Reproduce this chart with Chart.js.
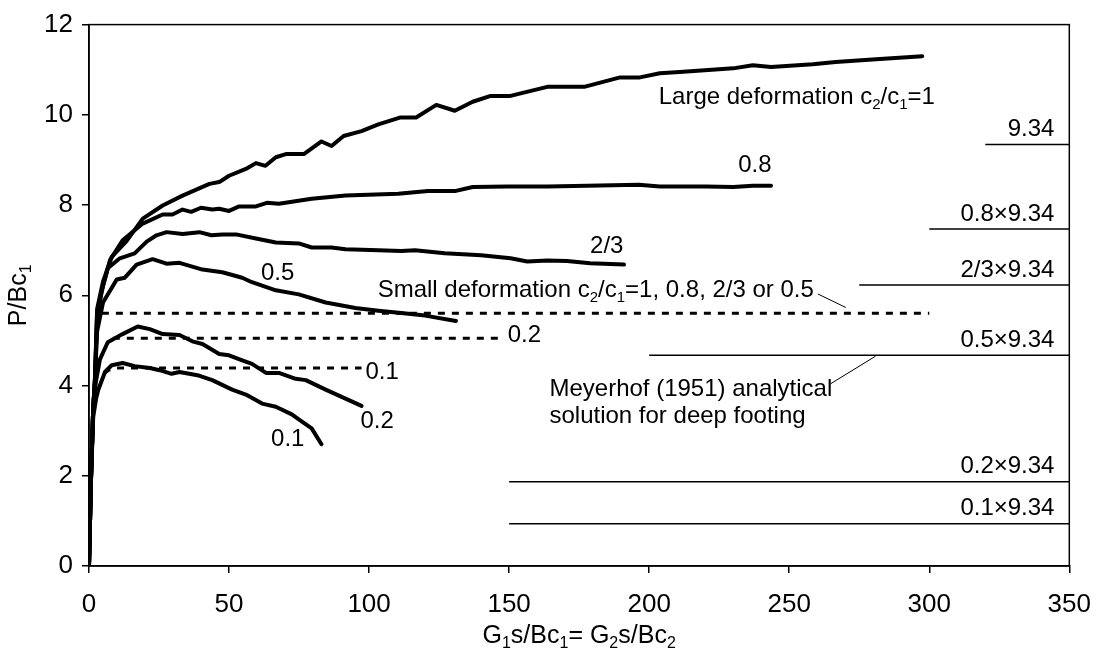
<!DOCTYPE html>
<html>
<head>
<meta charset="utf-8">
<script src="https://cdn.jsdelivr.net/npm/chart.js@4/dist/chart.umd.min.js"></script>
<style>
  html, body { margin: 0; padding: 0; background: #fff; }
</style>
</head>
<body>
<canvas id="chart" width="1107" height="659"></canvas>
<script>
// large deformation curves, one pair of arrays per c2/c1 ratio
const c100X = [0, 0.7, 1.5, 2.1, 2.9, 5, 8.1, 13.4, 19.2, 26.3, 33.4, 43, 46.5, 50, 56, 59.6, 63, 66.7, 70.3, 76.7, 83, 86.6, 90.9, 97.3, 103.3, 111, 116.8, 124, 130.6, 137, 143.4, 150.5, 163.6, 176.8, 189.6, 196.7, 203.8, 210.9, 230, 237, 243.5, 258.4, 266.6, 281, 297.5];
const c100Y = [0, 1.9, 3.5, 4.1, 5.7, 6.3, 6.85, 7.2, 7.7, 7.99, 8.21, 8.47, 8.51, 8.65, 8.8, 8.93, 8.87, 9.06, 9.13, 9.13, 9.41, 9.31, 9.53, 9.64, 9.79, 9.94, 9.94, 10.22, 10.09, 10.29, 10.42, 10.42, 10.62, 10.62, 10.83, 10.83, 10.92, 10.95, 11.03, 11.1, 11.06, 11.12, 11.17, 11.23, 11.3];

const c080X = [0, 0.7, 1.5, 2.1, 2.9, 5, 7.5, 12, 19.2, 26.3, 29.8, 33.4, 36.5, 40, 44, 46.5, 50, 53.6, 59.6, 63.5, 67.8, 79.5, 91.6, 110.4, 121, 130.6, 137, 149.5, 163.6, 177.8, 196.3, 203.8, 220.4, 230, 237, 243.5];
const c080Y = [0, 1.9, 3.5, 4.1, 5.6, 6.2, 6.78, 7.22, 7.59, 7.79, 7.79, 7.9, 7.85, 7.94, 7.9, 7.92, 7.87, 7.97, 7.97, 8.05, 8.03, 8.14, 8.21, 8.25, 8.31, 8.31, 8.4, 8.41, 8.41, 8.43, 8.45, 8.41, 8.41, 8.4, 8.43, 8.43];

const c067X = [0, 0.7, 1.5, 2.1, 2.9, 4.5, 6.7, 11, 16.3, 20.6, 24.1, 27.7, 33.4, 39.4, 43.7, 47.6, 52.5, 59.6, 66.7, 74.9, 79.5, 86.6, 91.6, 103.3, 111.5, 116.4, 127, 140, 150.5, 156.5, 163.6, 170.7, 178.9, 191];
const c067Y = [0, 1.9, 3.5, 4.1, 5.5, 6.1, 6.6, 6.82, 6.93, 7.19, 7.33, 7.4, 7.36, 7.4, 7.33, 7.35, 7.35, 7.26, 7.17, 7.15, 7.06, 7.06, 7.02, 7.0, 6.98, 7.0, 6.93, 6.89, 6.82, 6.75, 6.77, 6.76, 6.71, 6.68];

const c050X = [0, 0.7, 1.5, 2.1, 2.9, 5, 9.9, 12.8, 17, 22.7, 27.7, 32.3, 40.5, 47.6, 54.7, 58.2, 66.7, 74.9, 84.5, 95.1, 103.3, 111.5, 120, 131];
const c050Y = [0, 1.9, 3.5, 4.1, 5.2, 5.84, 6.35, 6.39, 6.68, 6.8, 6.7, 6.72, 6.57, 6.51, 6.39, 6.29, 6.11, 6.02, 5.84, 5.72, 5.66, 5.61, 5.55, 5.43];

const c020X = [0, 0.7, 1.5, 2.5, 3.9, 6.7, 12, 17.4, 21.7, 26.3, 32.3, 36.9, 40.5, 46.5, 50, 54.7, 58.2, 63.2, 67.8, 73.8, 77.4, 84.5, 90.2, 97.3];
const c020Y = [0, 1.9, 3.5, 4.1, 4.58, 4.96, 5.14, 5.31, 5.25, 5.14, 5.12, 4.98, 4.92, 4.7, 4.67, 4.56, 4.48, 4.28, 4.28, 4.15, 4.12, 3.91, 3.75, 3.55];

const c010X = [0, 0.7, 1.5, 2.5, 3.3, 5.7, 8.1, 12, 16.3, 21.7, 25.2, 29.5, 32.3, 38.7, 44, 51.1, 56, 61.8, 66.7, 72.4, 74.9, 79.5, 83];
const c010Y = [0, 1.9, 3.3, 3.7, 3.9, 4.3, 4.45, 4.5, 4.43, 4.39, 4.34, 4.26, 4.3, 4.23, 4.12, 3.91, 3.8, 3.6, 3.53, 3.36, 3.25, 3.05, 2.7];

// small deformation curves (dashed), visible part only
const smallAllX = [4.6, 300];
const smallAllY = [5.6, 5.6];
const small020X = [8.5, 147.7];
const small020Y = [5.05, 5.05];
const small010X = [5.5, 7, 10, 97.3];
const small010Y = [4.27, 4.34, 4.39, 4.39];

// Meyerhof (1951) deep footing value and the multiples drawn on the right
const meyerhof = 9.34;
const meyerFactors = [1, 0.8, 2 / 3, 0.5, 0.2, 0.1];
const meyerStartX = [320, 300, 275, 200, 150, 150];
const meyerLabels = ['9.34', '0.8\u00d79.34', '2/3\u00d79.34', '0.5\u00d79.34', '0.2\u00d79.34', '0.1\u00d79.34'];

const xTicks = [0, 50, 100, 150, 200, 250, 300, 350];
const yTicks = [0, 2, 4, 6, 8, 10, 12];

const FONT = '"Liberation Sans", Arial, sans-serif';
const NOTE_SIZE = 24;

function pts(xs, ys) {
  return xs.map((v, i) => ({ x: v, y: ys[i] }));
}

function curve(xs, ys) {
  return { data: pts(xs, ys), showLine: true, borderColor: '#000', borderWidth: 4,
    pointRadius: 0, tension: 0, fill: false, borderJoinStyle: 'round', borderCapStyle: 'round' };
}

function dashed(xs, ys) {
  return { data: pts(xs, ys), showLine: true, borderColor: '#000', borderWidth: 3,
    borderDash: [7, 7], pointRadius: 0, tension: 0, fill: false };
}

const datasets = [
  dashed(smallAllX, smallAllY),
  dashed(small020X, small020Y),
  dashed(small010X, small010Y),
  curve(c100X, c100Y),
  curve(c080X, c080Y),
  curve(c067X, c067Y),
  curve(c050X, c050Y),
  curve(c020X, c020Y),
  curve(c010X, c010Y)
];
meyerFactors.forEach((f, i) => {
  datasets.push({ data: [{ x: meyerStartX[i], y: f * meyerhof }, { x: 350, y: f * meyerhof }],
    showLine: true, borderColor: '#000', borderWidth: 1.5, pointRadius: 0, fill: false });
});

// text with subscripts: odd entries of parts are subscripts
function rich(ctx, parts, px, py, align, size) {
  const sub = Math.round(size * 0.62);
  let w = 0;
  parts.forEach((p, i) => {
    ctx.font = (i % 2 ? sub : size) + 'px ' + FONT;
    w += ctx.measureText(p).width;
  });
  let cx = align === 'right' ? px - w : align === 'center' ? px - w / 2 : px;
  ctx.textAlign = 'left';
  ctx.textBaseline = 'middle';
  parts.forEach((p, i) => {
    ctx.font = (i % 2 ? sub : size) + 'px ' + FONT;
    ctx.fillText(p, cx, py + (i % 2 ? size * 0.3 : 0));
    cx += ctx.measureText(p).width;
  });
}

// annotations in data units: [parts, x, y, align]
const notes = [
  [['Large deformation c', '2', '/c', '1', '=1'], 203.4, 10.38, 'left'],
  [['0.8'], 231.8, 8.89, 'left'],
  [['2/3'], 178.9, 7.09, 'left'],
  [['0.5'], 61.4, 6.49, 'left'],
  [['Small deformation c', '2', '/c', '1', '=1, 0.8, 2/3 or 0.5'], 258.8, 6.1, 'right'],
  [['0.2'], 149.5, 5.11, 'left'],
  [['0.1'], 98.7, 4.3, 'left'],
  [['0.2'], 96.9, 3.2, 'left'],
  [['0.1'], 65, 2.81, 'left'],
  [['Meyerhof (1951) analytical'], 164.4, 3.91, 'left'],
  [['solution for deep footing'], 164.4, 3.31, 'left']
];
const leaders = [
  [260.2, 6.03, 270.2, 5.73],
  [264.8, 4.04, 280.8, 4.65]
];

const notesPlugin = {
  id: 'notes',
  afterDraw(chart) {
    const { ctx, chartArea: a, scales: { x, y } } = chart;
    ctx.save();
    ctx.strokeStyle = '#000';
    ctx.lineWidth = 1.5;
    ctx.strokeRect(a.left, a.top, a.right - a.left, a.bottom - a.top);
    ctx.fillStyle = '#000';
    notes.forEach(n => rich(ctx, n[0], x.getPixelForValue(n[1]), y.getPixelForValue(n[2]), n[3], NOTE_SIZE));
    meyerFactors.forEach((f, i) => {
      ctx.font = NOTE_SIZE + 'px ' + FONT;
      ctx.textAlign = 'right';
      ctx.textBaseline = 'middle';
      ctx.fillText(meyerLabels[i], x.getPixelForValue(344.7), y.getPixelForValue(f * meyerhof) - 15);
    });
    ctx.lineWidth = 1;
    leaders.forEach(l => {
      ctx.beginPath();
      ctx.moveTo(x.getPixelForValue(l[0]), y.getPixelForValue(l[1]));
      ctx.lineTo(x.getPixelForValue(l[2]), y.getPixelForValue(l[3]));
      ctx.stroke();
    });
    // axis titles
    rich(ctx, ['G', '1', 's/Bc', '1', '= G', '2', 's/Bc', '2'], (a.left + a.right) / 2, 636, 'center', 25);
    ctx.translate(19, (a.top + a.bottom) / 2);
    ctx.rotate(-Math.PI / 2);
    rich(ctx, ['P/Bc', '1'], 0, 0, 'center', 25);
    ctx.restore();
  }
};

new Chart(document.getElementById('chart').getContext('2d'), {
  type: 'scatter',
  data: { datasets: datasets },
  options: {
    responsive: false,
    animation: false,
    devicePixelRatio: 1,
    layout: { padding: { top: 19, right: 32, left: 0, bottom: 0 } },
    plugins: { legend: { display: false }, tooltip: { enabled: false } },
    scales: {
      x: {
        type: 'linear', min: 0, max: 350,
        afterFit: s => { s.height = 93; },
        afterBuildTicks: s => { s.ticks = xTicks.map(v => ({ value: v })); },
        grid: { drawOnChartArea: false, drawTicks: true, tickLength: 7, color: '#000', lineWidth: 1.5 },
        border: { display: true, color: '#000', width: 1.5 },
        ticks: { color: '#000', padding: 16, font: { family: FONT, size: 26 } }
      },
      y: {
        type: 'linear', min: 0, max: 12,
        afterFit: s => { s.width = 89; },
        afterBuildTicks: s => { s.ticks = yTicks.map(v => ({ value: v })); },
        grid: { drawOnChartArea: false, drawTicks: true, tickLength: 7, color: '#000', lineWidth: 1.5 },
        border: { display: true, color: '#000', width: 1.5 },
        ticks: { color: '#000', padding: 9, font: { family: FONT, size: 26 } }
      }
    }
  },
  plugins: [notesPlugin]
});
</script>
</body>
</html>
